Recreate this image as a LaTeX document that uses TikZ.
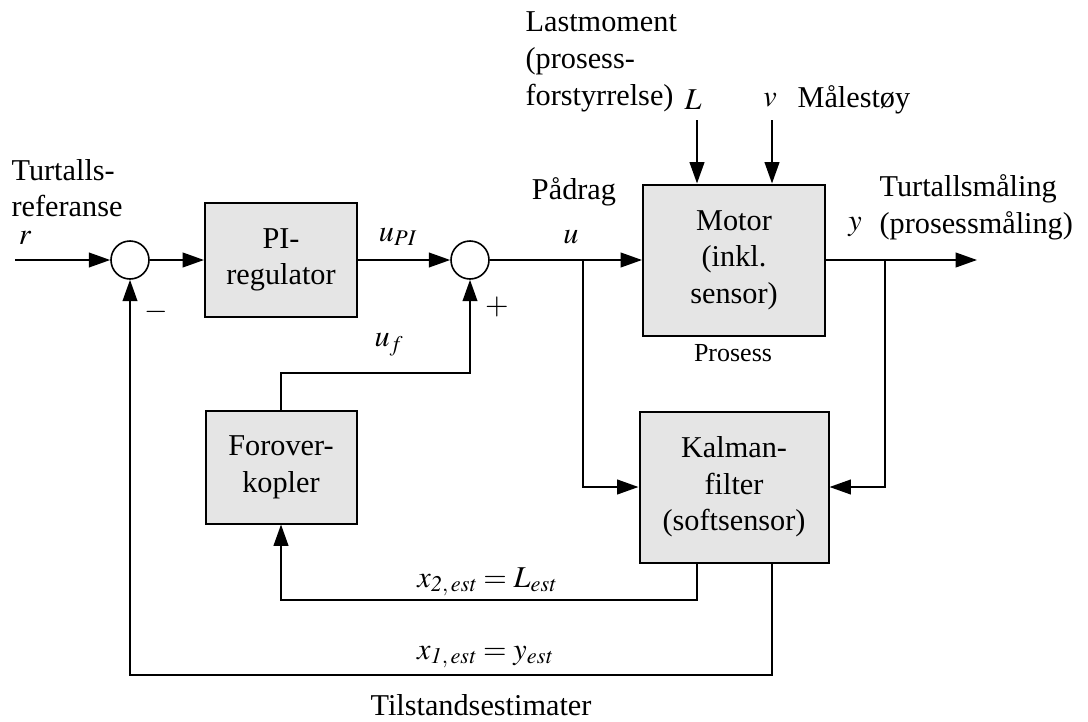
\documentclass[tikz,border=0pt]{standalone}
\usepackage{mathptmx}
\usepackage{fontspec}
\setmainfont{Liberation Serif}
\usetikzlibrary{arrows.meta}

\tikzset{
    block/.style={draw, line width=1.5pt, fill=gray!20, align=center, inner sep=0pt},
    sumc/.style={draw, circle, line width=1.2pt, fill=white, minimum size=28.5pt, inner sep=0pt},
    sig/.style={line width=1.4pt, -{Triangle[length=16pt,width=11pt]}},
    lbl/.style={inner sep=1pt}
}

\begin{document}
\begin{tikzpicture}[x=0.75pt, y=-0.75pt, font=\fontsize{22.7}{27.5}\selectfont]
    \useasboundingbox (0,0) rectangle (1088,721);

    % blocks
    \node[block, minimum width=114pt, minimum height=85.5pt] (pi) at (281,260) {PI-\\regulator};
    \node[block, minimum width=136.5pt, minimum height=113.25pt] (motor) at (734,260) {Motor\\(inkl.\\sensor)};
    \node[block, minimum width=113.25pt, minimum height=84.75pt] (forover) at (281,467) {Forover-\\kopler};
    \node[block, minimum width=141.75pt, minimum height=113.25pt] (kalman) at (734,487) {Kalman-\\filter\\(softsensor)};

    % summing points
    \node[sumc] (sum1) at (130,260) {};
    \node[sumc] (sum2) at (470,260) {};

    % free ends and branch points
    \coordinate (rin) at (15,260);
    \coordinate (yout) at (977,260);
    \coordinate (ju) at (583,260);
    \coordinate (jy) at (885,260);
    \coordinate (Lin) at (697,120);
    \coordinate (vin) at (772,120);
    \coordinate (uf) at (470,373);
    \coordinate (k2) at (697,600);
    \coordinate (k1) at (772,675);

    % main path
    \draw[sig] (rin) -- (sum1);
    \draw[sig] (sum1) -- (pi);
    \draw[sig] (pi) -- (sum2);
    \draw[sig] (sum2) -- (motor);
    \draw[sig] (motor) -- (yout);

    % disturbances
    \draw[sig] (Lin) -- (Lin |- motor.north);
    \draw[sig] (vin) -- (vin |- motor.north);

    % to the Kalman filter
    \draw[sig] (ju) |- (kalman);
    \draw[sig] (jy) |- (kalman);

    % feedforward and feedback
    \draw[sig] (forover.north) |- (uf) -- (sum2);
    \draw[sig] (kalman.south -| k2) -- (k2) -| (forover.south);
    \draw[sig] (kalman.south -| k1) -- (k1) -| (sum1);

    % labels
    \node[lbl, anchor=west, align=left] (lref) at (10,188) {Turtalls-\\referanse};
    \node[lbl] (lr) at (25,238) {$r$};
    \node[lbl] (lupi) at (398,237) {$u_{\mathit{PI}}$};
    \node[lbl] (lminus) at (156,312) {$-$};
    \node[lbl] (lplus) at (497,307) {$+$};
    \node[lbl] (luf) at (389,345) {$u_f$};
    \node[lbl] (lpaa) at (574,192) {Pådrag};
    \node[lbl] (lu) at (571,237) {$u$};
    \node[lbl, anchor=west, align=left] (llast) at (524,62) {Lastmoment\\(prosess-\\forstyrrelse)};
    \node[lbl] (lL) at (693,100) {$L$};
    \node[lbl] (lv) at (770,100) {$v$};
    \node[lbl, anchor=west] (lmaal) at (796,100) {Målestøy};
    \node[lbl, font=\fontsize{19.5}{23}\selectfont] (lpros) at (733,353) {Prosess};
    \node[lbl, anchor=west, align=left] (lturt) at (878,207) {Turtallsmåling\\(prosessmåling)};
    \node[lbl] (ly) at (855,227) {$y$};
    \node[lbl] (lx2) at (487,582) {$x_{\mathit{2,\,est}} = L_{\mathit{est}}$};
    \node[lbl] (lx1) at (485,657) {$x_{\mathit{1,\,est}} = y_{\mathit{est}}$};
    \node[lbl] (ltil) at (481,705) {Tilstandsestimater};
\end{tikzpicture}
\end{document}
